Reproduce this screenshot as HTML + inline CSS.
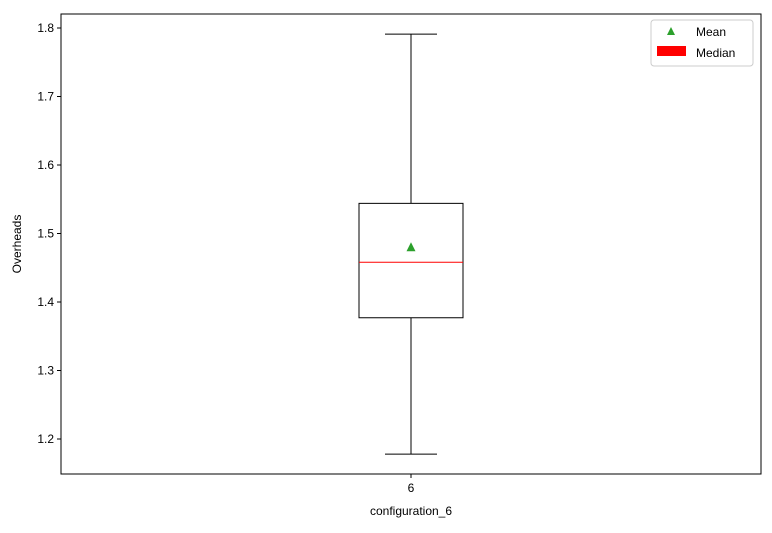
<!DOCTYPE html>
<html><head><meta charset="utf-8"><style>
body{margin:0;background:#fff;font-family:"Liberation Sans","DejaVu Sans",sans-serif;}
svg text{font-family:"Liberation Sans","DejaVu Sans",sans-serif;font-size:12px;fill:#000;}
</style></head><body>
<svg id="chart" width="772" height="528">
<rect x="0" y="0" width="772" height="528" fill="#fff"/>
<g id="marks"></g>
<g id="axes"></g>
</svg>
<script>
const categories = ["6"];
const whiskerLow = [1.178];
const q1 = [1.377];
const median = [1.458];
const q3 = [1.544];
const whiskerHigh = [1.791];
const means = [1.480];
const yTicks = [1.2, 1.3, 1.4, 1.5, 1.6, 1.7, 1.8];
const xLabel = "configuration_6";
const yLabel = "Overheads";

const L=61,R=761,T=14,B=474;
function yScale(v){ return 439 + (1.2 - v) * 685; }
function xScale(i){ return L + (R-L)*(i+0.5)/categories.length; }
const NS="http://www.w3.org/2000/svg";
function mk(tag, attrs, parent){ const e=document.createElementNS(NS,tag); for(const k in attrs) e.setAttribute(k,attrs[k]); parent.appendChild(e); return e; }
const marks=document.getElementById('marks'), axes=document.getElementById('axes');

categories.forEach((c,i)=>{
  const cx=xScale(i), hw=52, cw=26;
  let e;
  e=mk('line',{x1:cx,x2:cx,y1:yScale(q3[i]),y2:yScale(whiskerHigh[i]),stroke:'#000'},marks);
   
  e=mk('line',{x1:cx,x2:cx,y1:yScale(q1[i]),y2:yScale(whiskerLow[i]),stroke:'#000'},marks);
   
  e=mk('line',{x1:cx-cw,x2:cx+cw,y1:yScale(whiskerHigh[i]),y2:yScale(whiskerHigh[i]),stroke:'#000'},marks);
   
  e=mk('line',{x1:cx-cw,x2:cx+cw,y1:yScale(whiskerLow[i]),y2:yScale(whiskerLow[i]),stroke:'#000'},marks);
   
  e=mk('rect',{x:cx-hw,y:yScale(q3[i]),width:2*hw,height:yScale(q1[i])-yScale(q3[i]),fill:'none',stroke:'#000'},marks);
   
  e=mk('line',{x1:cx-hw,x2:cx+hw,y1:yScale(median[i]),y2:yScale(median[i]),stroke:'#f00'},marks);
   
  const my=yScale(means[i]);
  e=mk('polygon',{points:`${cx},${my-5} ${cx-4.5},${my+4} ${cx+4.5},${my+4}`,fill:'#2ca02c'},marks);
   
  e=mk('line',{x1:cx,x2:cx,y1:B,y2:B+4,stroke:'#000'},axes);
   
  e=mk('text',{x:cx,y:B+18,'text-anchor':'middle'},axes); e.textContent=c;
   
});
yTicks.forEach(t=>{
  const y=yScale(t); let e;
  e=mk('line',{x1:L-4,x2:L,y1:y,y2:y,stroke:'#000'},axes);
   
  e=mk('text',{x:L-7,y:y+4,'text-anchor':'end'},axes); e.textContent=t.toFixed(1);
   
});
let e=mk('rect',{x:L,y:T,width:R-L,height:B-T,fill:'none',stroke:'#000'},axes);
 
e=mk('text',{x:(L+R)/2,y:515,'text-anchor':'middle'},axes); e.textContent=xLabel;
 
e=mk('text',{x:21,y:(T+B)/2,'text-anchor':'middle',transform:`rotate(-90 21 ${(T+B)/2})`},axes); e.textContent=yLabel;
 
// legend
const lg=mk('g',{},axes);
 
mk('rect',{x:651,y:20,width:102,height:46,rx:3,fill:'#fff',stroke:'#ccc'},lg);
e=mk('polygon',{points:'671,27 667,35 675,35',fill:'#2ca02c'},lg);
 
e=mk('text',{x:696,y:36},lg); e.textContent='Mean';
 
e=mk('rect',{x:657,y:46,width:29,height:10,fill:'#f00'},lg);
 
e=mk('text',{x:696,y:57},lg); e.textContent='Median';
 
</script>
</body></html>
